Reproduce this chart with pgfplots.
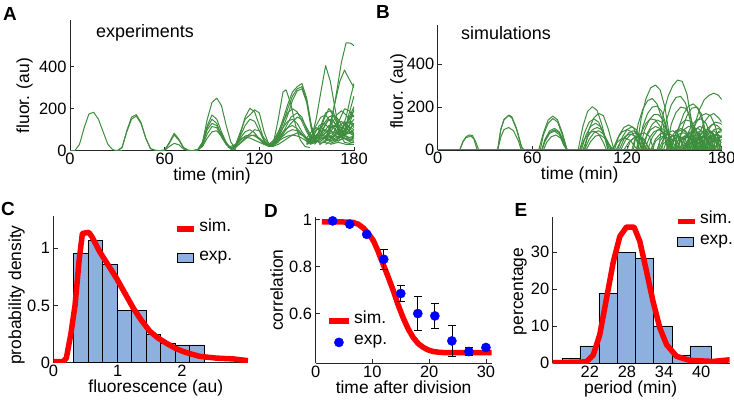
\documentclass[border=0pt]{standalone}
\usepackage{fontspec}
\setmainfont{Liberation Sans}
\usepackage{pgfplots}
\pgfplotsset{compat=1.18}
\definecolor{trgreen}{RGB}{62,140,62}
\definecolor{barblue}{RGB}{141,176,222}
\pgfplotsset{
  myaxis/.style={
    scale only axis,
    axis x line*=bottom, axis y line*=left,
    axis line style={line width=0.9bp, black!85},
    tick align=inside,
    major tick length=4bp,
    tick style={line width=0.7bp, black!85},
    tick label style={font=\fontsize{16.5}{18}\selectfont},
    xticklabel style={yshift=1bp},
    label style={font=\fontsize{17.5}{20}\selectfont, inner sep=0pt},
    /pgf/number format/assume math mode=true,
    enlargelimits=false,
  },
  tr/.style={trgreen, line width=1bp, line join=round},
  leg/.style={legend style={draw=none, fill=none, inner sep=0pt, column sep=1bp,
      font=\fontsize{17.5}{20}\selectfont,
      nodes={inner sep=1.5bp, text height=0.72em, text depth=0.22em}},
      legend cell align=left},
}
\begin{document}
\begin{tikzpicture}
\useasboundingbox (0bp,0bp) rectangle (734bp,405bp);
% ---------------- A ----------------
\begin{axis}[myaxis, at={(70bp,254.3bp)}, anchor=south west, width=284bp, height=131bp,
  xmin=0, xmax=180, ymin=0, ymax=624,
  xtick={0,60,120,180}, ytick={0,200,400},
  xlabel={time (min)}, ylabel={fluor. (au)},
  xlabel style={at={(axis description cs:0.5,0)}, anchor=north, yshift=-17bp},
  ylabel style={at={(axis description cs:0,0.42)}, anchor=south, yshift=37bp}]
\addplot[tr] coordinates {(0,0)(3,0)(6,30)(9,110)(12,175)(15,183)(18,150)(21,90)(24,30)(27,5)(30,0)(33,0)};
\addplot[tr] coordinates {(30,0)(33,15)(36,90)(39,150)(42,165)(45,130)(48,60)(51,10)(54,2)(57,0)};
\addplot[tr] coordinates {(30,0)(33,15)(36,95)(39,160)(42,172)(45,135)(48,60)(51,10)(54,2)(57,0)};
\addplot[tr] coordinates {(57,0)(60,3)(63,40)(66,83)(69,55)(72,15)(75,2)(78,0)(81,0)};
\addplot[tr] coordinates {(57,0)(60,2)(63,20)(66,35)(69,28)(72,8)(75,1)(78,0)(81,0)};
\addplot[tr] coordinates {(57,0)(60,3)(63,35)(66,75)(69,50)(72,12)(75,2)(78,0)(81,3)};
\addplot[tr] coordinates {(78,0)(81,5)(84,40)(87,150)(90,230)(93,250)(96,215)(99,120)(102,40)(105,10)};
\addplot[tr] coordinates {(78,0)(81,5)(84,40)(87,120)(90,170)(93,150)(96,90)(99,40)(102,10)(105,5)};
\addplot[tr] coordinates {(78,0)(81,3)(84,30)(87,110)(90,150)(93,130)(96,70)(99,30)(102,8)};
\addplot[tr] coordinates {(78,0)(81,5)(84,25)(87,80)(90,115)(93,110)(96,65)(99,30)(102,10)};
\addplot[tr] coordinates {(78,0)(81,3)(84,20)(87,60)(90,90)(93,95)(96,70)(99,35)(102,10)};
\addplot[tr] coordinates {(78,0)(81,5)(84,35)(87,100)(90,130)(93,120)(96,80)(99,35)(102,12)};
\addplot[tr] coordinates {(102,5)(105,20)(108,80)(111,160)(114,202)(117,185)(120,120)(123,50)(126,25)(129,20)};
\addplot[tr] coordinates {(102,10)(105,30)(108,90)(111,150)(114,170)(117,195)(120,180)(123,90)(126,30)(129,20)};
\addplot[tr] coordinates {(102,5)(105,25)(108,70)(111,120)(114,150)(117,140)(120,95)(123,45)(126,25)(129,25)};
\addplot[tr] coordinates {(102,10)(105,30)(108,60)(111,90)(114,100)(117,85)(120,55)(123,30)(126,20)(129,20)};
\addplot[tr] coordinates {(102,8)(105,25)(108,50)(111,70)(114,75)(117,70)(120,55)(123,35)(126,25)(129,30)};
\addplot[tr] coordinates {(100,15)(105,30)(108,55)(111,65)(114,60)(117,50)(120,40)(123,30)(126,30)(129,35)};
\addplot[tr] coordinates {(102,10)(105,20)(108,40)(111,60)(114,80)(117,100)(120,95)(123,60)(126,35)(129,25)};
\addplot[tr] coordinates {(102,5)(105,15)(108,35)(111,55)(114,70)(117,75)(120,60)(123,40)(126,25)(129,20)};
\addplot[tr] coordinates {(126,20)(129,40)(132,150)(135,280)(137,290)(140,220)(143,120)(146,50)(149,20)(152,15)};
\addplot[tr] coordinates {(126,25)(129,40)(132,80)(135,150)(138,220)(141,280)(144,305)(147,320)(150,250)(153,120)(156,50)(159,30)};
\addplot[tr] coordinates {(126,25)(129,40)(132,70)(135,130)(138,200)(141,260)(144,295)(147,305)(150,240)(153,110)(156,45)};
\addplot[tr] coordinates {(126,20)(129,35)(132,60)(135,110)(138,170)(141,240)(144,285)(147,295)(150,230)(153,100)(156,40)};
\addplot[tr] coordinates {(126,30)(129,50)(132,90)(135,140)(138,180)(141,200)(144,185)(147,140)(150,90)(153,50)(156,40)};
\addplot[tr] coordinates {(126,25)(129,40)(132,70)(135,110)(138,140)(141,150)(144,130)(147,90)(150,60)(153,45)};
\addplot[tr] coordinates {(126,20)(129,35)(132,60)(135,90)(138,110)(141,120)(144,105)(147,80)(150,50)(153,35)};
\addplot[tr] coordinates {(126,30)(129,35)(132,50)(135,70)(138,90)(141,100)(144,95)(147,75)(150,55)(153,40)};
\addplot[tr] coordinates {(126,25)(129,30)(132,45)(135,60)(138,70)(141,75)(144,70)(147,60)(150,45)(153,35)};
\addplot[tr] coordinates {(128,20)(132,40)(136,90)(140,130)(144,160)(147,150)(150,110)(153,70)(156,45)};
\addplot[tr] coordinates {(128,25)(132,50)(136,100)(140,160)(144,180)(147,160)(150,100)(153,60)(156,40)};
\addplot[tr] coordinates {(128,20)(132,30)(136,50)(140,70)(144,85)(148,70)(152,50)(156,35)};
\addplot[tr] coordinates {(150,30)(153,60)(156,150)(159,280)(162,405)(165,330)(168,200)(171,80)(174,40)(177,35)(180,40)};
\addplot[tr] coordinates {(160,45)(163,50)(166,150)(169,280)(172,420)(175,514)(178,512)(180,500)};
\addplot[tr] coordinates {(162,50)(165,130)(168,230)(171,330)(174,384)(177,340)(180,300)};
\addplot[tr] coordinates {(155,40)(158,80)(161,150)(164,200)(167,180)(170,130)(173,90)(176,110)(180,150)};
\addplot[tr] coordinates {(153,35)(156,60)(159,120)(162,180)(165,190)(168,150)(171,100)(174,80)(177,120)(180,200)};
\addplot[tr] coordinates {(150,40)(153,70)(156,120)(159,160)(162,170)(165,140)(168,100)(171,70)(174,90)(177,180)(180,260)};
\addplot[tr] coordinates {(155,30)(158,60)(161,110)(164,150)(167,140)(170,100)(173,70)(176,90)(180,130)};
\addplot[tr] coordinates {(152,45)(155,80)(158,120)(161,130)(164,110)(167,80)(170,60)(173,80)(176,120)(180,100)};
\addplot[tr] coordinates {(150,50)(153,70)(156,100)(159,110)(162,95)(165,70)(168,50)(171,60)(174,100)(177,140)(180,110)};
\addplot[tr] coordinates {(155,40)(158,55)(161,80)(164,100)(167,120)(170,110)(173,80)(176,60)(180,70)};
\addplot[tr] coordinates {(150,40)(154,60)(158,90)(162,100)(166,90)(170,80)(174,100)(177,160)(180,210)};
\addplot[tr] coordinates {(152,30)(156,40)(160,60)(164,80)(168,90)(172,70)(176,50)(180,60)};
\addplot[tr] coordinates {(155,60)(158,90)(161,130)(164,160)(167,170)(170,150)(173,110)(176,80)(180,90)};
\addplot[tr] coordinates {(160,50)(163,80)(166,130)(169,170)(172,190)(175,170)(178,140)(180,120)};
\addplot[tr] coordinates {(158,30)(162,45)(166,60)(170,80)(174,120)(177,150)(180,170)};
\addplot[tr] coordinates {(150,30)(155,45)(160,40)(165,35)(170,50)(175,60)(180,50)};
\addplot[tr] coordinates {(165,60)(168,100)(171,150)(174,200)(177,190)(180,160)};
\addplot[tr] coordinates {(160,70)(164,100)(168,120)(172,110)(176,140)(180,190)};
\addplot[tr] coordinates {(168,40)(172,90)(175,160)(178,260)(180,320)};
\addplot[tr] coordinates {(165,30)(170,40)(175,30)(180,30)};
\addplot[tr] coordinates {(150,60)(153,90)(156,110)(159,90)(162,60)(165,50)(168,80)(171,120)(174,140)(177,110)(180,80)};
\addplot[tr] coordinates {(152,50)(155,70)(158,75)(161,70)(164,60)(167,70)(170,90)(173,110)(176,100)(180,75)};
\addplot[tr] coordinates {(155,50)(158,70)(161,90)(164,120)(167,110)(170,90)(173,60)(176,50)(180,45)};
\addplot[tr] coordinates {(158,40)(161,60)(164,70)(167,60)(170,45)(173,60)(176,90)(180,130)};
\addplot[tr] coordinates {(160,60)(163,70)(166,100)(169,130)(172,140)(175,120)(178,80)(180,70)};
\addplot[tr] coordinates {(150,35)(154,50)(158,65)(162,55)(166,45)(170,60)(174,75)(178,90)(180,100)};
\addplot[tr] coordinates {(162,30)(166,50)(170,70)(174,60)(178,40)(180,40)};
\addplot[tr] coordinates {(157,45)(160,100)(163,140)(166,150)(169,120)(172,90)(175,70)(178,60)(180,65)};
\end{axis}
\node[font=\fontsize{18}{20}\selectfont] at (145bp,372bp) {experiments};
% ---------------- B ----------------
\begin{axis}[myaxis, at={(437.7bp,255bp)}, anchor=south west, width=284bp, height=125bp,
  xmin=0, xmax=180, ymin=0, ymax=583,
  xtick={0,60,120,180}, ytick={0,200,400},
  xlabel={time (min)}, ylabel={fluor. (au)},
  xlabel style={at={(axis description cs:0.5,0)}, anchor=north, yshift=-17bp},
  ylabel style={at={(axis description cs:0,0.47)}, anchor=south, yshift=31bp}]
\addplot[tr] coordinates {(0,0)(180,0)};
\addplot[tr] coordinates {(14,0)(16,40)(18,62)(20,70)(22,68)(24,40)(26,0)};
\addplot[tr] coordinates {(14,0)(16,38)(18,58)(20,62)(21,66)(23,50)(25,0)};
\addplot[tr] coordinates {(38,0)(40,95)(42,140)(45,163)(47,155)(50,100)(53,20)(54,0)};
\addplot[tr] coordinates {(38,0)(40,60)(42,95)(45,105)(48,90)(51,45)(53,0)};
\addplot[tr] coordinates {(38,0)(40,98)(42,143)(45,160)(47,150)(50,95)(53,15)(55,0)};
\addplot[tr] coordinates {(64,0)(67,80)(70,140)(73,158)(76,140)(79,80)(82,0)};
\addplot[tr] coordinates {(65,0)(67,70)(70,125)(73,147)(76,130)(79,70)(82,0)};
\addplot[tr] coordinates {(66,0)(68,50)(71,90)(74,101)(77,85)(80,40)(82,0)};
\addplot[tr] coordinates {(66,0)(68,40)(71,78)(74,88)(77,72)(80,30)(82,0)};
\addplot[tr] coordinates {(67,0)(69,35)(72,62)(75,70)(78,55)(80,20)(82,0)};
\addplot[tr] coordinates {(66,0)(68,45)(71,82)(74,94)(77,80)(80,35)(82,0)};
\addplot[tr] coordinates {(89,0)(92,110)(95,180)(98,202)(101,185)(104,120)(107,30)(108,0)};
\addplot[tr] coordinates {(93,0)(96,100)(99,150)(102,171)(105,160)(108,100)(111,20)(112,0)};
\addplot[tr] coordinates {(90,0)(93,80)(96,130)(99,145)(102,130)(105,80)(108,0)};
\addplot[tr] coordinates {(91,0)(94,70)(97,110)(100,125)(103,110)(106,60)(109,0)};
\addplot[tr] coordinates {(92,0)(95,60)(98,95)(101,105)(104,95)(107,50)(110,0)};
\addplot[tr] coordinates {(93,0)(96,50)(99,80)(102,90)(105,75)(108,35)(111,0)};
\addplot[tr] coordinates {(90,0)(93,50)(96,80)(99,88)(102,75)(105,35)(107,0)};
\addplot[tr] coordinates {(94,0)(97,40)(100,65)(103,70)(106,55)(109,20)(111,0)};
\addplot[tr] coordinates {(112,0)(115,70)(118,105)(121,117)(124,105)(127,60)(130,0)};
\addplot[tr] coordinates {(114,0)(117,60)(120,95)(123,108)(126,95)(129,50)(131,0)};
\addplot[tr] coordinates {(111,0)(114,55)(117,85)(120,95)(123,85)(126,45)(128,0)};
\addplot[tr] coordinates {(115,0)(118,50)(121,80)(124,90)(127,75)(130,35)(132,0)};
\addplot[tr] coordinates {(113,0)(116,40)(119,65)(122,75)(125,65)(128,30)(130,0)};
\addplot[tr] coordinates {(116,0)(119,45)(122,70)(125,80)(128,65)(131,25)(133,0)};
\addplot[tr] coordinates {(118,0)(121,35)(124,55)(127,60)(130,50)(133,20)(135,0)};
\addplot[tr] coordinates {(110,0)(113,30)(116,50)(119,55)(122,45)(125,15)(127,0)};
\addplot[tr] coordinates {(120,0)(122,40)(125,60)(128,65)(131,50)(134,0)};
\addplot[tr] coordinates {(123,0)(125,50)(128,75)(131,80)(134,65)(137,0)};
\addplot[tr] coordinates {(126,0)(129,150)(132,240)(135,290)(138,303)(141,280)(144,200)(147,60)(148,0)};
\addplot[tr] coordinates {(124,0)(127,120)(130,190)(133,230)(136,240)(139,215)(142,150)(145,40)(146,0)};
\addplot[tr] coordinates {(127,0)(130,110)(133,170)(136,200)(139,205)(142,180)(145,110)(148,0)};
\addplot[tr] coordinates {(128,0)(131,90)(134,140)(137,165)(140,165)(143,140)(146,80)(149,0)};
\addplot[tr] coordinates {(126,0)(129,80)(132,125)(135,145)(138,140)(141,110)(144,50)(146,0)};
\addplot[tr] coordinates {(130,0)(133,80)(136,120)(139,140)(142,130)(145,95)(148,30)(149,0)};
\addplot[tr] coordinates {(129,0)(132,60)(135,95)(138,110)(141,100)(144,60)(147,0)};
\addplot[tr] coordinates {(131,0)(134,55)(137,85)(140,95)(143,85)(146,45)(148,0)};
\addplot[tr] coordinates {(133,0)(136,60)(139,90)(142,100)(145,85)(148,40)(150,0)};
\addplot[tr] coordinates {(135,0)(138,50)(141,75)(144,80)(147,65)(150,25)(151,0)};
\addplot[tr] coordinates {(140,0)(143,170)(146,250)(149,300)(152,326)(155,320)(158,260)(161,130)(163,0)};
\addplot[tr] coordinates {(142,0)(145,140)(148,210)(151,245)(154,250)(157,220)(160,140)(162,0)};
\addplot[tr] coordinates {(145,0)(148,120)(151,175)(154,200)(157,195)(160,160)(163,80)(164,0)};
\addplot[tr] coordinates {(150,0)(153,110)(156,170)(159,205)(162,215)(165,195)(168,130)(170,0)};
\addplot[tr] coordinates {(152,0)(155,100)(158,160)(161,195)(164,200)(167,170)(170,80)(171,0)};
\addplot[tr] coordinates {(160,0)(163,120)(166,190)(169,235)(172,255)(175,265)(178,255)(180,235)};
\addplot[tr] coordinates {(158,0)(161,80)(164,130)(167,160)(170,170)(173,160)(176,110)(178,40)(179,0)};
\addplot[tr] coordinates {(163,0)(166,80)(169,130)(172,160)(175,170)(178,150)(180,130)};
\addplot[tr] coordinates {(155,0)(158,70)(161,115)(164,140)(167,145)(170,125)(173,70)(175,0)};
\addplot[tr] coordinates {(148,0)(151,80)(154,120)(157,140)(160,135)(163,105)(166,50)(167,0)};
\addplot[tr] coordinates {(165,0)(168,60)(171,100)(174,120)(177,115)(180,95)};
\addplot[tr] coordinates {(150,0)(153,60)(156,95)(159,110)(162,105)(165,80)(168,30)(169,0)};
\addplot[tr] coordinates {(157,0)(160,60)(163,95)(166,110)(169,100)(172,70)(175,15)(176,0)};
\addplot[tr] coordinates {(167,0)(170,70)(173,110)(176,130)(179,125)(180,118)};
\addplot[tr] coordinates {(145,0)(148,60)(151,90)(154,100)(157,90)(160,55)(163,0)};
\addplot[tr] coordinates {(162,0)(165,55)(168,85)(171,95)(174,85)(177,50)(179,0)};
\addplot[tr] coordinates {(153,0)(156,50)(159,80)(162,90)(165,80)(168,45)(170,0)};
\addplot[tr] coordinates {(170,0)(172,60)(175,95)(178,100)(180,90)};
\addplot[tr] coordinates {(140,0)(143,50)(146,80)(149,90)(152,75)(155,30)(157,0)};
\addplot[tr] coordinates {(168,0)(171,40)(174,65)(177,70)(180,60)};
\addplot[tr] coordinates {(150,0)(152,40)(155,60)(158,65)(161,55)(164,20)(165,0)};
\addplot[tr] coordinates {(160,0)(162,40)(165,70)(168,80)(171,70)(174,30)(175,0)};
\addplot[tr] coordinates {(172,0)(174,50)(177,80)(180,85)};
\addplot[tr] coordinates {(155,0)(157,30)(160,50)(163,55)(166,45)(168,0)};
\addplot[tr] coordinates {(165,0)(167,35)(170,55)(173,60)(176,45)(178,0)};
\addplot[tr] coordinates {(146,0)(148,35)(151,55)(154,60)(157,50)(159,0)};
\addplot[tr] coordinates {(148,0)(150,50)(153,75)(156,80)(159,70)(162,25)(163,0)};
\addplot[tr] coordinates {(152,0)(154,45)(157,70)(160,75)(163,60)(165,20)(166,0)};
\addplot[tr] coordinates {(156,0)(158,40)(161,65)(164,70)(167,55)(169,15)(170,0)};
\addplot[tr] coordinates {(159,0)(161,50)(164,80)(167,90)(170,75)(172,25)(173,0)};
\addplot[tr] coordinates {(161,0)(163,35)(166,55)(169,60)(172,45)(174,0)};
\addplot[tr] coordinates {(164,0)(166,45)(169,75)(172,85)(175,70)(177,20)(178,0)};
\addplot[tr] coordinates {(166,0)(168,40)(171,60)(174,65)(177,50)(179,0)};
\addplot[tr] coordinates {(169,0)(171,45)(174,70)(177,75)(180,60)};
\addplot[tr] coordinates {(171,0)(173,35)(176,55)(179,60)(180,58)};
\addplot[tr] coordinates {(174,0)(176,40)(179,60)(180,62)};
\addplot[tr] coordinates {(176,0)(178,45)(180,70)};
\addplot[tr] coordinates {(158,0)(160,30)(163,45)(166,48)(169,35)(171,0)};
\addplot[tr] coordinates {(162,0)(164,25)(167,40)(170,42)(173,30)(175,0)};
\addplot[tr] coordinates {(170,0)(172,30)(175,45)(178,45)(180,35)};
\addplot[tr] coordinates {(136,0)(138,40)(141,60)(144,65)(147,50)(149,0)};
\addplot[tr] coordinates {(139,0)(141,45)(144,70)(147,75)(150,60)(152,0)};
\addplot[tr] coordinates {(143,0)(145,40)(148,65)(151,70)(154,55)(156,0)};
\addplot[tr] coordinates {(147,0)(149,50)(152,85)(155,95)(158,80)(160,0)};
\addplot[tr] coordinates {(151,0)(153,35)(156,55)(159,60)(162,45)(164,0)};
\addplot[tr] coordinates {(154,0)(156,45)(159,75)(162,85)(165,70)(167,0)};
\addplot[tr] coordinates {(157,0)(159,55)(162,90)(165,100)(168,85)(170,0)};
\addplot[tr] coordinates {(160,0)(162,35)(165,60)(168,65)(171,50)(173,0)};
\addplot[tr] coordinates {(163,0)(165,50)(168,85)(171,95)(174,80)(176,0)};
\addplot[tr] coordinates {(167,0)(169,45)(172,80)(175,90)(178,70)(180,0)};
\addplot[tr] coordinates {(173,0)(175,50)(178,85)(180,95)};
\addplot[tr] coordinates {(175,0)(177,30)(180,50)};
\addplot[tr] coordinates {(141,0)(143,30)(146,45)(149,50)(152,35)(154,0)};
\addplot[tr] coordinates {(156,0)(158,25)(161,38)(164,40)(167,28)(168,0)};
\addplot[tr] coordinates {(168,0)(170,25)(173,38)(176,40)(179,25)(180,0)};
\end{axis}
\node[font=\fontsize{18}{20}\selectfont] at (506bp,372bp) {simulations};
% ---------------- C ----------------
\begin{axis}[myaxis, leg, at={(53.5bp,42.3bp)}, anchor=south west, width=194.5bp, height=146.4bp,
  xmin=0, xmax=3.03, ymin=0, ymax=1.28,
  xtick={0,1,2}, ytick={0,0.5,1},
  xlabel={fluorescence (au)}, ylabel={probability density},
  xlabel style={at={(axis description cs:0.526,0)}, anchor=north, yshift=-17bp},
  ylabel style={at={(axis description cs:0,0.462)}, anchor=south, yshift=28.5bp},
  reverse legend,
  legend style={at={(rel axis cs:0.62,0.815)}, anchor=west, row sep=16bp}]
\addplot[ybar interval, fill=barblue, draw=black, line width=0.7bp,
  legend image code/.code={\draw[fill=barblue, draw=black, line width=0.7bp] (0bp,-4.5bp) rectangle (16bp,4.5bp);}]
  coordinates {(0.31,0.956)(0.536,1.067)(0.762,0.86)(0.988,0.46)(1.214,0.46)(1.44,0.248)(1.666,0.17)(1.892,0.155)(2.118,0.155)(2.344,0)};
\addlegendentry{exp.}
\addplot[red, line width=5.5bp, line join=round,
  legend image code/.code={\draw[red, line width=5.5bp] (0bp,0bp) -- (17bp,0bp);}]
  coordinates {(0,0.01)(0.15,0.01)(0.2,0.04)(0.27,0.25)(0.335,0.5)(0.4,0.9)(0.45,1.13)(0.55,1.14)(0.6,1.1)(0.72,0.97)(0.85,0.855)(0.98,0.74)(1.1,0.62)(1.24,0.48)(1.37,0.37)(1.5,0.275)(1.63,0.215)(1.76,0.17)(1.9,0.125)(2.02,0.098)(2.15,0.075)(2.28,0.055)(2.54,0.04)(2.8,0.033)(3.03,0.018)};
\addlegendentry{sim.}
\end{axis}
% ---------------- D ----------------
\begin{axis}[myaxis, leg, at={(315.6bp,41.7bp)}, anchor=south west, width=176bp, height=146.2bp,
  xmin=0, xmax=31, ymin=0.39, ymax=1.01,
  xtick={0,10,20,30}, ytick={0.6,0.8,1},
  xlabel={time after division}, ylabel={correlation},
  xlabel style={at={(axis description cs:0.5,0)}, anchor=north, yshift=-17bp},
  ylabel style={at={(axis description cs:0,0.5)}, anchor=south, yshift=32.3bp},
  legend style={at={(rel axis cs:0.059,0.216)}, anchor=west, row sep=9bp}]
\addplot[red, line width=5.5bp, line join=round,
  legend image code/.code={\draw[red, line width=5.5bp] (0bp,0bp) -- (20bp,0bp);}]
  coordinates {(1.1,0.99)(4,0.99)(6.5,0.988)(7.5,0.98)(8.5,0.962)(9.3,0.94)(10.2,0.909)(11,0.865)(11.9,0.81)(12.8,0.755)(13.7,0.697)(14.5,0.64)(15.4,0.584)(16.3,0.536)(17.2,0.499)(18.1,0.473)(19,0.457)(19.8,0.447)(20.7,0.44)(22,0.436)(24,0.435)(31,0.435)};
\addlegendentry{sim.}
\addplot[only marks, mark=*, mark size=4.6bp, mark options={blue, fill=blue, draw=blue},
  legend image code/.code={\fill[blue] (10bp,0bp) circle (4.6bp);},
  error bars/.cd, y dir=both, y explicit, error bar style={black, line width=0.7bp},
  error mark options={rotate=90, mark size=4bp, black, line width=0.7bp}]
  coordinates {(3,0.994)+-(0,0.003)(6,0.98)+-(0,0.004)(9,0.937)+-(0,0.008)(12,0.831)+-(0,0.041)(15,0.686)+-(0,0.033)(18,0.601)+-(0,0.071)(21,0.591)+-(0,0.054)(24,0.485)+-(0,0.066)(27,0.44)+-(0,0.018)(30,0.457)+-(0,0.01)};
\addlegendentry{exp.}
\end{axis}
% ---------------- E ----------------
\begin{axis}[myaxis, leg, at={(552.7bp,41.7bp)}, anchor=south west, width=177bp, height=146.5bp,
  xmin=16, xmax=44.6, ymin=0, ymax=39.6,
  xtick={22,28,34,40}, ytick={0,10,20,30},
  xlabel={period (min)}, ylabel={percentage},
  xlabel style={at={(axis description cs:0.44,0)}, anchor=north, yshift=-17bp},
  ylabel style={at={(axis description cs:0,0.49)}, anchor=south, yshift=25.7bp},
  reverse legend,
  legend style={at={(rel axis cs:0.69,0.90)}, anchor=west, row sep=8bp}]
\addplot[ybar interval, fill=barblue, draw=black, line width=0.7bp,
  legend image code/.code={\draw[fill=barblue, draw=black, line width=0.7bp] (0bp,-4.5bp) rectangle (16bp,4.5bp);}]
  coordinates {(17.55,1.35)(20.4,4.68)(23.46,18.9)(26.4,30.0)(29.37,28.4)(32.3,10.1)(35.3,2.25)(38.3,4.68)(41.7,0)};
\addlegendentry{exp.}
\addplot[red, line width=5.5bp, line join=round,
  legend image code/.code={\draw[red, line width=5.5bp] (0bp,0bp) -- (17bp,0bp);}]
  coordinates {(15.6,0.2)(18,0.2)(20,0.25)(21.5,0.45)(22.55,2.25)(23.6,7.7)(24.7,17.6)(25.8,27.5)(26.85,34.3)(27.9,36.8)(29.15,36.8)(30.07,33.0)(31.1,25.3)(32.2,16.8)(33.3,9.6)(34.4,5.05)(36.0,1.9)(38.1,0.8)(41.9,0.5)(44.6,0.95)};
\addlegendentry{sim.}
\end{axis}
% ---------------- panel letters ----------------
\node[font=\bfseries\fontsize{19}{19}\selectfont] at (10bp,391bp) {A};
\node[font=\bfseries\fontsize{19}{19}\selectfont] at (383bp,393bp) {B};
\node[font=\bfseries\fontsize{19}{19}\selectfont] at (8bp,196bp) {C};
\node[font=\bfseries\fontsize{19}{19}\selectfont] at (271bp,194bp) {D};
\node[font=\bfseries\fontsize{19}{19}\selectfont] at (521bp,195bp) {E};
\end{tikzpicture}
\end{document}
